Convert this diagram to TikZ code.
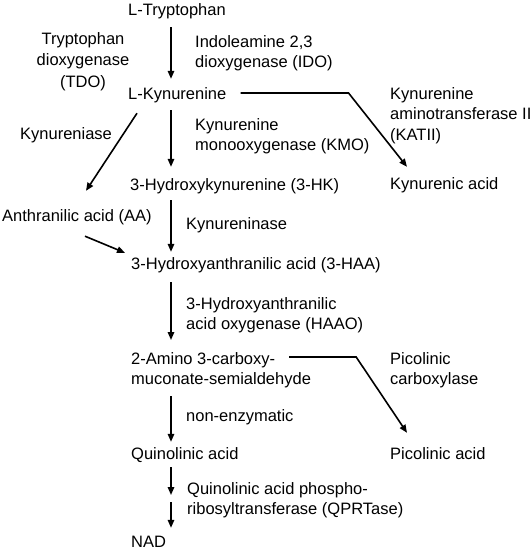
\documentclass[tikz,border=0pt]{standalone}
\usepackage{fontspec}
\setmainfont{Liberation Sans}
\usetikzlibrary{arrows.meta}
\begin{document}
\begin{tikzpicture}[x=1pt,y=-1pt,
  txt/.style={inner sep=0pt,font=\fontsize{16.5}{20.5}\selectfont,text=black},
  cmpd/.style={txt,anchor=base west,text height=12pt,text depth=3.5pt},
  lbl/.style={txt,anchor=north west,align=left},
  arr/.style={line width=1.6pt,draw=black,-{Triangle[length=8pt,width=6.5pt]}}]
\useasboundingbox (0,0) rectangle (532,551);
% compounds
\node[cmpd] (trp)  at (128,16)  {L-Tryptophan};
\node[cmpd] (kyn)  at (128,99)  {L-Kynurenine};
\node[cmpd] (hk)   at (130,190) {3-Hydroxykynurenine (3-HK)};
\node[cmpd] (aa)   at (2,221)   {Anthranilic acid (AA)};
\node[cmpd] (haa)  at (131,269) {3-Hydroxyanthranilic acid (3-HAA)};
\node[cmpd] (kyna) at (390,189) {Kynurenic acid};
\node[lbl]  (acms) at (131,352) {2-Amino 3-carboxy-\\muconate-semialdehyde};
\node[cmpd] (quin) at (131,459) {Quinolinic acid};
\node[cmpd] (pic)  at (390,459) {Picolinic acid};
\node[cmpd] (nad)  at (131,547.5) {NAD};
\coordinate (ax) at (171,0);
\coordinate (mid) at (171,498.5);
% enzyme labels
\node[txt,anchor=north,align=center,font=\fontsize{16.5}{21.5}\selectfont] (tdo) at (83,32) {Tryptophan\\dioxygenase\\(TDO)};
\node[lbl] (ido) at (195,35) {Indoleamine 2,3\\dioxygenase (IDO)};
\node[lbl] (kmo) at (195,118) {Kynurenine\\monooxygenase (KMO)};
\node[lbl] (kat) at (390,87) {Kynurenine\\aminotransferase II\\(KATII)};
\node[cmpd] (kase) at (20,139) {Kynureniase};
\node[cmpd] (kinase) at (186,229) {Kynureninase};
\node[lbl] (haao) at (186,297) {3-Hydroxyanthranilic\\acid oxygenase (HAAO)};
\node[lbl] (pcx) at (390,352) {Picolinic\\carboxylase};
\node[cmpd] (nonenz) at (186,421) {non-enzymatic};
\node[lbl] (qprt) at (187,482) {Quinolinic acid phospho-\\ribosyltransferase (QPRTase)};
% main axis arrows
\draw[arr,shorten <=7.5pt,shorten >=8pt] (trp.south -| ax) -- (kyn.north -| ax);
\draw[arr,shorten <=7.5pt,shorten >=11pt] (kyn.south -| ax) -- (hk.north -| ax);
\draw[arr,shorten <=6.5pt,shorten >=5pt] (hk.south -| ax) -- (haa.north -| ax);
\draw[arr,shorten <=9.5pt,shorten >=12pt] (haa.south -| ax) -- (acms.north -| ax);
\draw[arr,shorten <=8pt,shorten >=5pt] (acms.south -| ax) -- (quin.north -| ax);
\draw[arr,shorten <=4.5pt,shorten >=3.5pt] (quin.south -| ax) -- (mid);
\draw[arr,shorten <=3.5pt,shorten >=7.5pt] (mid) -- (nad.north -| ax);
% side branches
\draw[arr] ([shift={(9,10.5)}]kyn.south west) -- ([shift={(84,-18)}]aa.north west);
\draw[arr] ([shift={(83,11.5)}]aa.south west) -- ([shift={(-6,-4)}]haa.north west);
\draw[arr] ([shift={(14,-6)}]kyn.base east) -- ++(108,0) -- ([shift={(17,-10)}]kyna.north west);
\draw[arr] ([shift={(-22,5)}]acms.north east) -- ++(67,0) -- ([shift={(17,-14)}]pic.north west);
\end{tikzpicture}
\end{document}
